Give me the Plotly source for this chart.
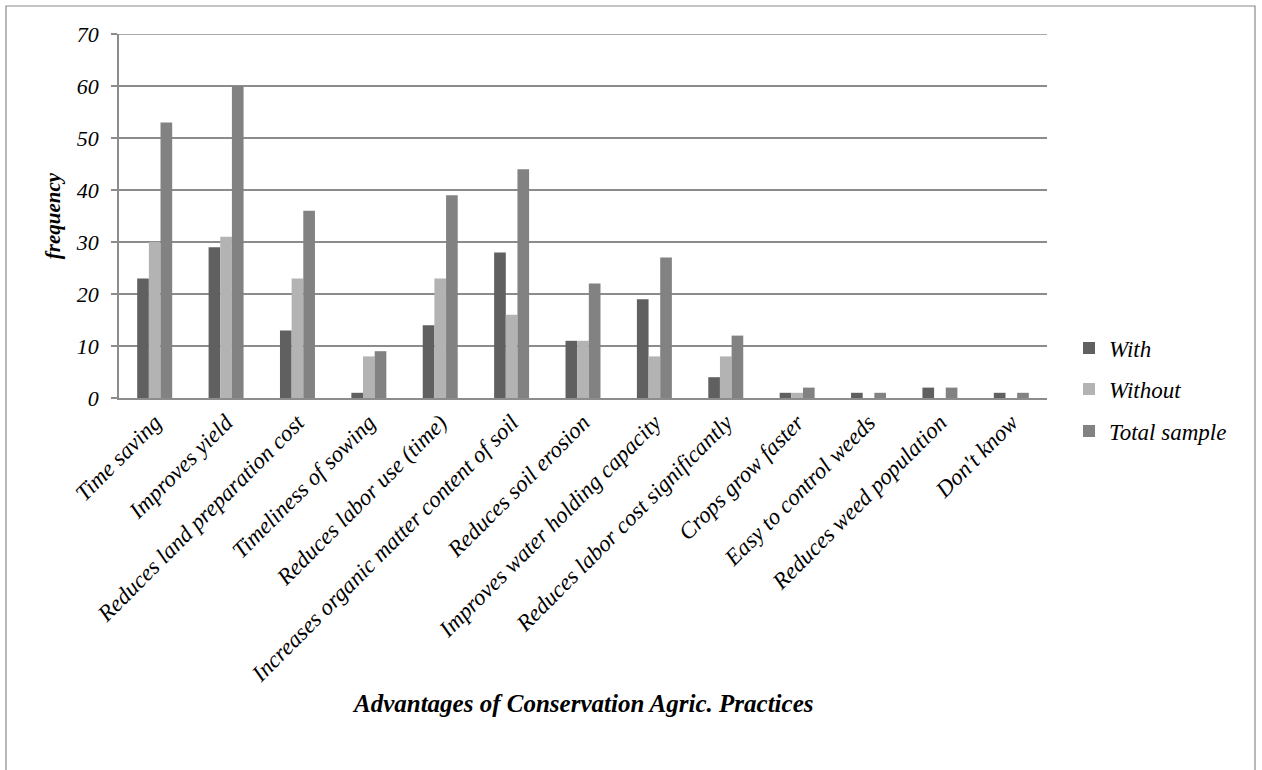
import plotly.graph_objects as go

categories = [
    "Time saving", "Improves yield", "Reduces land preparation cost",
    "Timeliness of sowing", "Reduces labor use (time)",
    "Increases organic matter content of soil", "Reduces soil erosion",
    "Improves water holding capacity", "Reduces labor cost significantly",
    "Crops grow faster", "Easy to control weeds", "Reduces weed population",
    "Don't know",
]
with_ca = [23, 29, 13, 1, 14, 28, 11, 19, 4, 1, 1, 2, 1]
without_ca = [30, 31, 23, 8, 23, 16, 11, 8, 8, 1, 0, 0, 0]
total_sample = [53, 60, 36, 9, 39, 44, 22, 27, 12, 2, 1, 2, 1]
y_ticks = [0, 10, 20, 30, 40, 50, 60, 70]

FONT = "Liberation Serif"
GRID = "#8c8c8c"

L, T, B, R = 119, 34, 372, 215
W, H = 1262, 770
pw, ph = W - L - R, H - T - B

def px_x(p):
    return (p - L) / pw

def px_y(p):
    return (H - B - p) / ph

series = [
    ("With", with_ca, "#606060", "legend", 348),
    ("Without", without_ca, "#b3b3b3", "legend2", 389),
    ("Total sample", total_sample, "#828282", "legend3", 431),
]

fig = go.Figure()
legend_layout = {}
for name, vals, col, lg, ypx in series:
    fig.add_trace(go.Bar(
        x=categories, y=vals, name=name, legend=lg,
        marker=dict(color=col, line=dict(width=0)),
    ))
    legend_layout[lg] = dict(
        x=px_x(1069), y=px_y(ypx), xanchor="left", yanchor="middle",
        font=dict(family=FONT, size=23, style="italic"),
        itemwidth=30, bgcolor="rgba(0,0,0,0)",
    )

fig.update_layout(
    width=W, height=H,
    margin=dict(l=L, r=R, t=T, b=B, autoexpand=False),
    paper_bgcolor="white", plot_bgcolor="white",
    barmode="group", bargap=0.51, bargroupgap=0,
    font=dict(family=FONT, color="black"),
    showlegend=True,
    xaxis=dict(
        tickangle=-45,
        tickfont=dict(family=FONT, size=23, style="italic"),
        showgrid=False, showline=True, linecolor=GRID, linewidth=2,
        ticks="", range=[-0.5, len(categories) - 0.5],
    ),
    yaxis=dict(
        range=[0, 70], tickvals=y_ticks,
        tickfont=dict(family=FONT, size=22, style="italic"),
        showgrid=True, gridcolor=GRID, gridwidth=1.5,
        showline=True, linecolor=GRID, linewidth=1.5,
        ticks="outside", ticklen=6, tickcolor=GRID, tickwidth=1.5,
        ticklabelstandoff=8,
        zeroline=False,
        title=dict(text="frequency", standoff=9,
                   font=dict(family=FONT, size=21, style="italic", weight="bold")),
    ),
    annotations=[dict(
        text="Advantages of Conservation Agric. Practices",
        xref="paper", yref="paper", x=px_x(582), y=px_y(703),
        xanchor="center", yanchor="middle", showarrow=False,
        font=dict(family=FONT, size=25, style="italic", weight="bold"),
    )],
    shapes=[
        dict(
            type="rect", xref="paper", yref="paper",
            x0=px_x(6), x1=px_x(1255), y0=px_y(790), y1=px_y(6),
            line=dict(color="#8a8a8a", width=1.2), layer="below",
        ),
        # gridline at the top of the value range
        dict(
            type="line", xref="paper", yref="y", x0=0, x1=1, y0=70, y1=70,
            line=dict(color=GRID, width=1.5), layer="below",
        ),
    ],
    **legend_layout,
)

fig.write_html("out.html")
